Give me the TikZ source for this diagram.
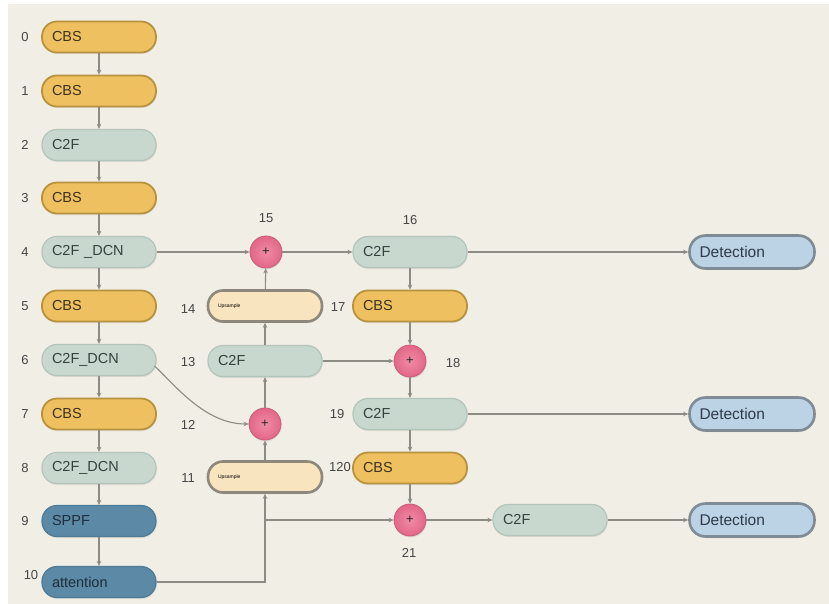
\documentclass[tikz,border=0pt]{standalone}
\usepackage{fontspec}
\setmainfont{Liberation Sans}
\usetikzlibrary{arrows.meta,calc,shadows}
\definecolor{bg}{HTML}{F0EEE5}
\definecolor{cbsF}{HTML}{EFC060}
\definecolor{cbsD}{HTML}{B8923F}
\definecolor{cbsT}{HTML}{3B3220}
\definecolor{c2fF}{HTML}{C9D8CF}
\definecolor{c2fD}{HTML}{B3C5BA}
\definecolor{c2fT}{HTML}{34423E}
\definecolor{upF}{HTML}{F8E4BE}
\definecolor{upD}{HTML}{8E877C}
\definecolor{dkF}{HTML}{5C89A6}
\definecolor{dkD}{HTML}{4D7A97}
\definecolor{dkT}{HTML}{1D2E3C}
\definecolor{detF}{HTML}{BCD2E5}
\definecolor{detD}{HTML}{7F8B95}
\definecolor{detT}{HTML}{2E3A48}
\definecolor{plF}{HTML}{E26787}
\definecolor{plD}{HTML}{CC5A78}
\definecolor{plL}{HTML}{F08BA5}
\definecolor{lnC}{HTML}{8C8C84}
\definecolor{lblC}{HTML}{454545}
\tikzset{
  box/.style={rounded corners=15pt, minimum height=31pt, minimum width=114pt,
    text width=94pt, inner xsep=10pt, inner ysep=0pt, align=left,
    font=\fontsize{14.5}{16}\selectfont, line width=1.2pt,
    drop shadow={opacity=0.18, shadow xshift=0.6pt, shadow yshift=-1.5pt}},
  cbs/.style={box, fill=cbsF, draw=cbsD, line width=1.8pt, text=cbsT},
  c2f/.style={box, fill=c2fF, draw=c2fD, text=c2fT},
  ups/.style={box, fill=upF, draw=upD, line width=2.6pt, font=\fontsize{5}{6}\selectfont, text=black},
  dark/.style={box, fill=dkF, draw=dkD, text=dkT},
  det/.style={box, minimum width=125pt, text width=105pt, minimum height=33pt,
    rounded corners=16pt, fill=detF, draw=detD, line width=2.6pt, text=detT,
    font=\fontsize{15.5}{17}\selectfont},
  plus/.style={circle, minimum size=32pt, inner sep=0pt, inner color=plL, outer color=plF,
    draw=plD, line width=0.8pt, font=\fontsize{13}{14}\selectfont, text=black!85,
    drop shadow={opacity=0.18, shadow xshift=0.6pt, shadow yshift=-1.5pt}},
  lbl/.style={text=lblC, font=\fontsize{13}{15}\selectfont},
  arr/.style={draw=lnC, line width=1.1pt, -{Stealth[length=5pt,width=4.5pt]}}
}
\begin{document}
\begin{tikzpicture}[x=1pt,y=-1pt]
\useasboundingbox (0,0) rectangle (829,604);
\fill[white] (0,0) rectangle (829,604);
\fill[bg] (8,4) rectangle (829,604);

% left column
\node[cbs]  (b0)  at (99,37)  {CBS};
\node[cbs]  (b1)  at (99,91)  {CBS};
\node[c2f]  (b2)  at (99,145) {C2F};
\node[cbs]  (b3)  at (99,198) {CBS};
\node[c2f]  (b4)  at (99,252) {C2F \_DCN};
\node[cbs]  (b5)  at (99,306) {CBS};
\node[c2f]  (b6)  at (99,360) {C2F\_DCN};
\node[cbs]  (b7)  at (99,414) {CBS};
\node[c2f]  (b8)  at (99,468) {C2F\_DCN};
\node[dark] (b9)  at (99,521) {SPPF};
\node[dark] (b10) at (99,582) {attention};

% second column
\node[plus] (p15) at (266,252) {+};
\node[ups]  (u14) at (265,306) {Upsample};
\node[c2f]  (c13) at (265,361) {C2F};
\node[plus] (p12) at (265,424) {+};
\node[ups]  (u11) at (265,477) {Upsample};

% third column
\node[c2f]  (c16)  at (410,252) {C2F};
\node[cbs]  (c17)  at (410,306) {CBS};
\node[plus] (p18)  at (410,361) {+};
\node[c2f]  (c19)  at (410,414) {C2F};
\node[cbs]  (c120) at (410,468) {CBS};
\node[plus] (p21)  at (410,520) {+};
\node[c2f]  (c22)  at (550,520) {C2F};

% detection heads
\node[det] (d1) at (752,252) {Detection};
\node[det] (d2) at (752,414) {Detection};
\node[det] (d3) at (752,520) {Detection};

% index labels
\node[lbl] (l0) at (25,37) {0};
\node[lbl] (l1) at (25,91) {1};
\node[lbl] (l2) at (25,145) {2};
\node[lbl] (l3) at (25,198) {3};
\node[lbl] (l4) at (25,252) {4};
\node[lbl] (l5) at (25,306) {5};
\node[lbl] (l6) at (25,360) {6};
\node[lbl] (l7) at (25,414) {7};
\node[lbl] (l8) at (25,468) {8};
\node[lbl] (l9) at (25,521) {9};
\node[lbl] (l10) at (31,575) {10};
\node[lbl] (l15) at (266,218) {15};
\node[lbl] (l14) at (188,309) {14};
\node[lbl] (l13) at (188,362) {13};
\node[lbl] (l12) at (188,425) {12};
\node[lbl] (l11) at (188,478) {11};
\node[lbl] (l16) at (410,220) {16};
\node[lbl] (l17) at (338,307) {17};
\node[lbl] (l18) at (453,363) {18};
\node[lbl] (l19) at (337,414) {19};
\node[lbl] (l120) at (340,467) {120};
\node[lbl] (l21) at (409,553) {21};

% connectors
\foreach \a/\b in {b0/b1,b1/b2,b2/b3,b3/b4,b4/b5,b5/b6,b6/b7,b7/b8,b8/b9,b9/b10}
  \draw[arr] (\a) -- (\b);
\draw[arr] (b4) -- (p15);
\draw[arr] (p15) -- (c16);
\draw[arr] (c16) -- (d1);
\draw[arr] (c16) -- (c17);
\draw[arr] (c17) -- (p18);
\draw[arr] (c13) -- (p18);
\draw[arr] (p18) -- (c19);
\draw[arr] (c19) -- (d2);
\draw[arr] (c19) -- (c120);
\draw[arr] (c120) -- (p21);
\draw[arr] (p21) -- (c22);
\draw[arr] (c22) -- (d3);
\draw[arr] (u14) -- (p15);
\draw[arr] (c13) -- (u14);
\draw[arr] (p12) -- (c13);
\draw[arr] (u11) -- (p12);
\draw[arr] (b10.east) -| (u11.south);
\coordinate (j) at (u11.south |- p21);
\draw[arr] (j) -- (p21);
\draw[arr] ($(b6.east)+(-2,6)$) .. controls (175,385) and (205,424) .. (p12.west);
\end{tikzpicture}
\end{document}
